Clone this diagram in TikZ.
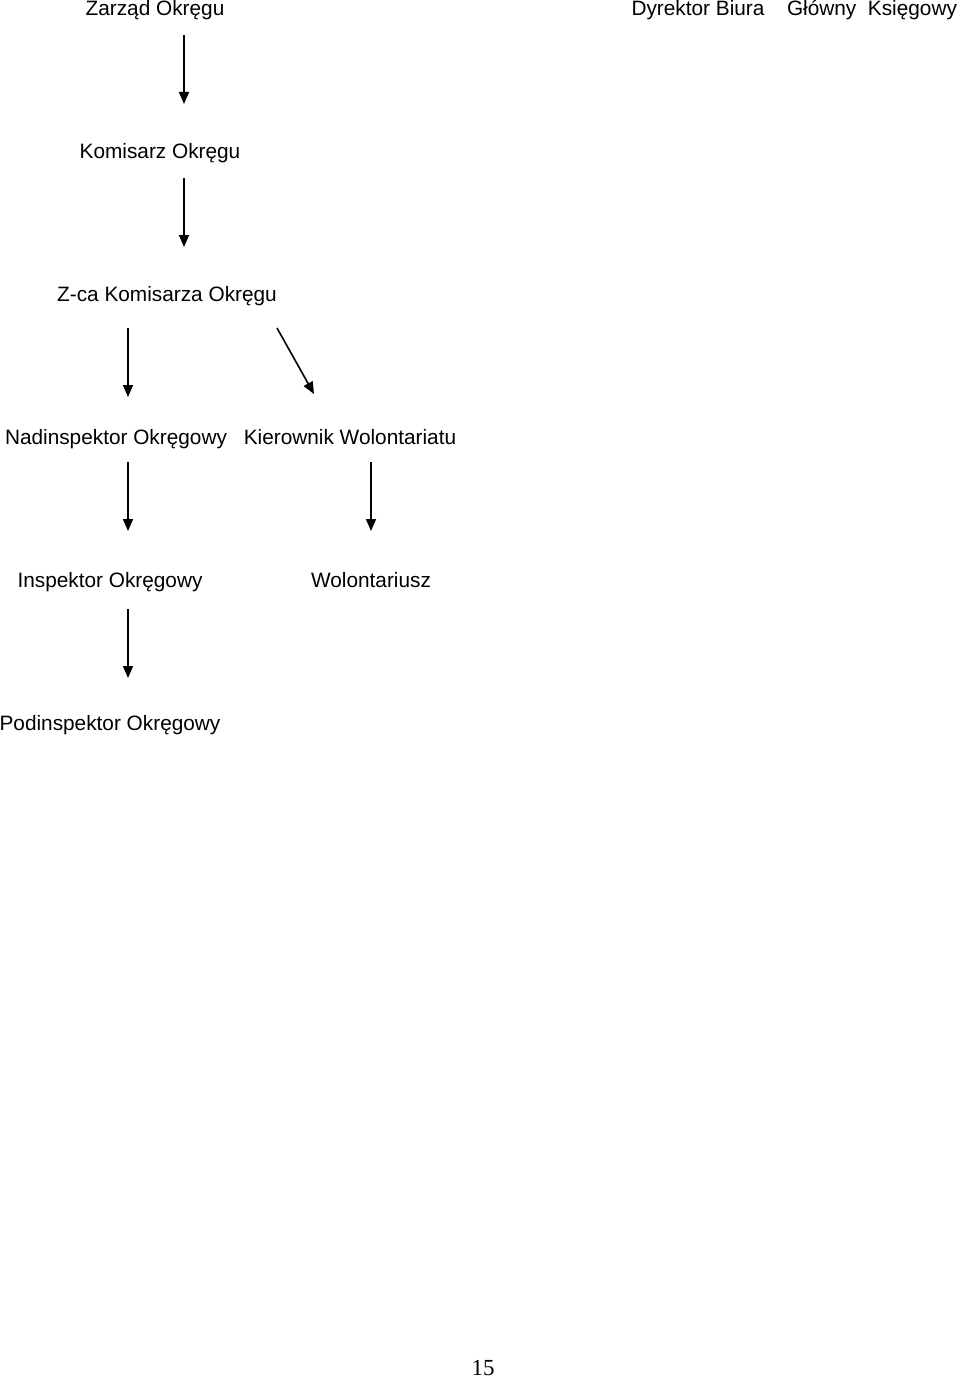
\documentclass[tikz,border=0pt]{standalone}
\usepackage{fontspec}
\setmainfont{Liberation Sans}
\newfontfamily\pagefont{Liberation Serif}
\usepackage{tikz}
\usetikzlibrary{arrows.meta, positioning}
\tikzset{
  % Text styles
  rolebox/.style={inner sep=0pt, anchor=base, font=\fontsize{20.8}{24}\selectfont},
  pagebox/.style={inner sep=0pt, anchor=base, font=\pagefont\fontsize{23}{27}\selectfont},
  % Arrow styles
  arrow/.style={-{Triangle[width=10pt, length=12pt]}, line width=1.6pt, black}
}
\begin{document}
\begin{tikzpicture}[x=1pt, y=-1pt]
  \useasboundingbox (0,0) rectangle (960,1378);

  % Top row
  \node[rolebox] (zarzad) at (155,16) {Zarząd Okręgu};
  \node[rolebox] (dyrektor) at (698,16) {Dyrektor Biura};
  \node[rolebox] (ksiegowy) at (872,16) {Główny\ \ Księgowy};

  % Chain
  \node[rolebox] (komisarz) at (160,158) {Komisarz Okręgu};
  \node[rolebox] (zca) at (167,301) {Z-ca Komisarza Okręgu};
  \node[rolebox] (nadinsp) at (116,444) {Nadinspektor Okręgowy};
  \node[rolebox] (kierownik) at (350,444) {Kierownik Wolontariatu};
  \node[rolebox] (inspektor) at (110,587) {Inspektor Okręgowy};
  \node[rolebox] (wolont) at (371,587) {Wolontariusz};
  \node[rolebox] (podinsp) at (110,730) {Podinspektor Okręgowy};

  % Arrows
  \draw[arrow] ([shift={(29,19)}]zarzad.base) -- ([shift={(24,-54)}]komisarz.base);
  \draw[arrow] ([shift={(24,20)}]komisarz.base) -- ([shift={(17,-54)}]zca.base);
  \draw[arrow] ([shift={(-39,27)}]zca.base) -- ([shift={(12,-47)}]nadinsp.base);
  \draw[arrow] ([shift={(110,27)}]zca.base) -- ([shift={(-36,-50)}]kierownik.base);
  \draw[arrow] ([shift={(12,18)}]nadinsp.base) -- ([shift={(18,-56)}]inspektor.base);
  \draw[arrow] ([shift={(21,18)}]kierownik.base) -- ([shift={(0,-56)}]wolont.base);
  \draw[arrow] ([shift={(18,22)}]inspektor.base) -- ([shift={(18,-52)}]podinsp.base);

  % Page number
  \node[pagebox] (page) at (483,1375) {15};
\end{tikzpicture}
\end{document}
